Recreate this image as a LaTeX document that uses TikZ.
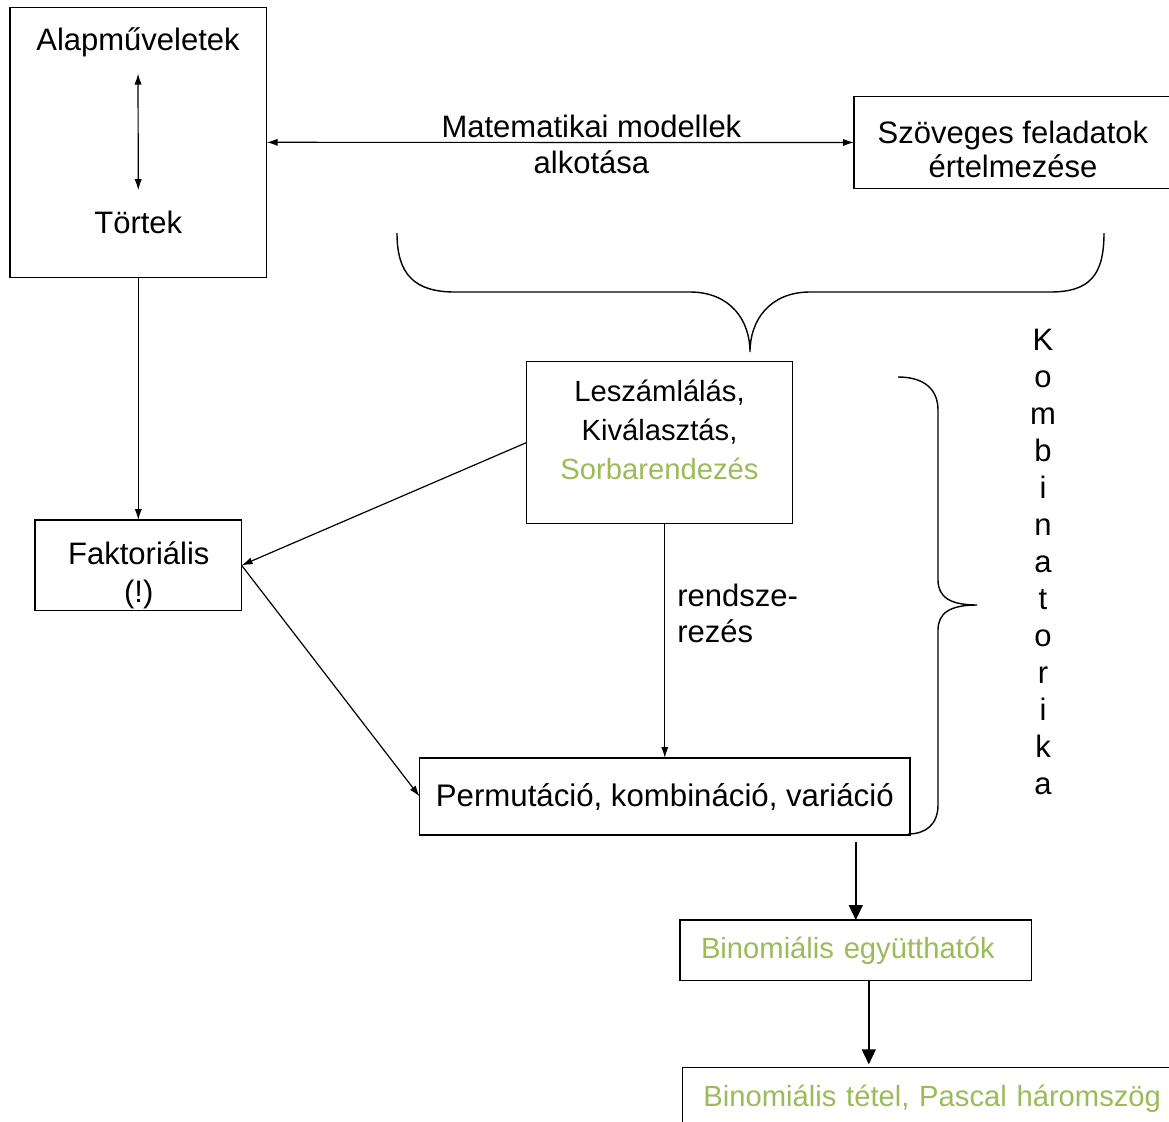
\documentclass[tikz,border=0pt]{standalone}
\usepackage{fontspec}
\setmainfont{Liberation Sans}
\usepackage{tikz}
\usetikzlibrary{arrows,arrows.meta}
\usetikzlibrary{positioning}
\definecolor{bgreen}{RGB}{155,187,89}
\tikzstyle{box}=[draw=black, line width=0.75pt, inner sep=0pt, outer sep=0pt]
\tikzstyle{txt}=[inner sep=0pt, align=center, text=black,
                 font=\fontsize{15.5}{18.4}\selectfont]
\tikzstyle{ctxt}=[inner sep=0pt, align=center, text=black,
                  font=\fontsize{14.6}{19.4}\selectfont]
\tikzstyle{arr}=[-{Latex[length=5.5pt,width=3.6pt]}, line width=0.6pt]
\tikzstyle{darr}=[{Latex[length=5.5pt,width=3.6pt]}-{Latex[length=5.5pt,width=3.6pt]},
                  line width=0.6pt]
\tikzstyle{bigarr}=[-{Triangle[length=7.5pt,width=7pt]}, line width=0.8pt]
\tikzstyle{brace}=[line width=0.7pt]

\begin{document}
\begin{tikzpicture}[x=0.5pt,y=-0.5pt]
    \useasboundingbox (0,0) rectangle (1169,1121);
    % upper left box
    \node[box, minimum width=128.3pt, minimum height=135pt] (alap) at (138.3,142.3) {};
    \node[txt] (alapt) at (138,42.5) {Alapműveletek};
    \node[txt] (tort) at (138.3,222) {Törtek};
    \draw[darr, shorten <=8pt, shorten >=10pt] (alapt.south) -- (tort.north);
    % upper right box
    \node[box, minimum width=165pt, minimum height=45.8pt] (szov) at (1019,142.5) {};
    \node[txt, font=\fontsize{15.5}{17}\selectfont] (szovt) at (1013,149.5)
      {Szöveges feladatok\\értelmezése};
    \draw[darr] (alap) -- (szov)
      node[txt, pos=0.553, yshift=-1pt] (modell) {Matematikai modellek\\alkotása};
    % upper brace
    \draw[brace] (397,233) .. controls (397,275) and (415,292) .. (455,292)
      -- (690,292) .. controls (730,292) and (750,320) .. (750,352)
      .. controls (750,320) and (770,292) .. (810,292)
      -- (1050,292) .. controls (1090,292) and (1104,275) .. (1104,233);
    % middle
    \node[box, minimum width=133pt, minimum height=80.8pt] (lesz) at (659.7,442.5) {};
    \node[ctxt] (leszt) at (659.5,430)
      {Leszámlálás,\\Kiválasztás,\\\textcolor{bgreen}{Sorbarendezés}};
    \node[box, minimum width=103.3pt, minimum height=45.3pt] (fakt) at (138.3,565.3) {};
    \node[txt, font=\fontsize{15.5}{18.8}\selectfont] (faktt) at (138.8,575) {Faktoriális\\(!)};
    \node[box, txt, font=\fontsize{15.6}{19}\selectfont, minimum width=245.2pt,
          minimum height=38.5pt] (perm) at (664.8,796.5) {Permutáció, kombináció, variáció};
    \draw[arr] (alap) -- (fakt);
    \draw[arr] (lesz.west) -- (fakt.east);
    \draw[arr] (fakt.east) -- (perm.west);
    \draw[arr] (lesz.south -| perm.north) -- (perm.north)
      node[txt, right, align=left, pos=0.384, xshift=6pt] (rend) {rendsze-\\rezés};
    % right brace
    \draw[brace] (898,377) .. controls (925,377) and (938,390) .. (938,410)
      -- (938,580) .. controls (938,597) and (950,605) .. (977,605)
      .. controls (950,605) and (938,613) .. (938,630)
      -- (938,805) .. controls (938,825) and (925,834) .. (908,834);
    \node[txt, font=\fontsize{15.5}{18.5}\selectfont] (komb) at (1043,562)
      {K\\o\\m\\b\\i\\n\\a\\t\\o\\r\\i\\k\\a};
    % binomial boxes
    \node[box, ctxt, text=bgreen, align=left, text width=154.8pt, inner xsep=10.5pt,
          minimum height=30.3pt] (bin1) at (855.8,950.3) {Binomiális együtthatók};
    \node[box, ctxt, text=bgreen, align=left, text width=237.8pt, inner xsep=10.5pt,
          minimum height=31.2pt] (bin2) at (941.2,1098.9) {Binomiális tétel, Pascal háromszög};
    \draw[bigarr] ([yshift=-3.4pt]perm.south -| bin1.north) -- (bin1.north);
    \draw[bigarr, shorten >=1.7pt] ([xshift=6.5pt]bin1.south) -- ([xshift=6.5pt]bin1.south |- bin2.north);
\end{tikzpicture}
\end{document}
